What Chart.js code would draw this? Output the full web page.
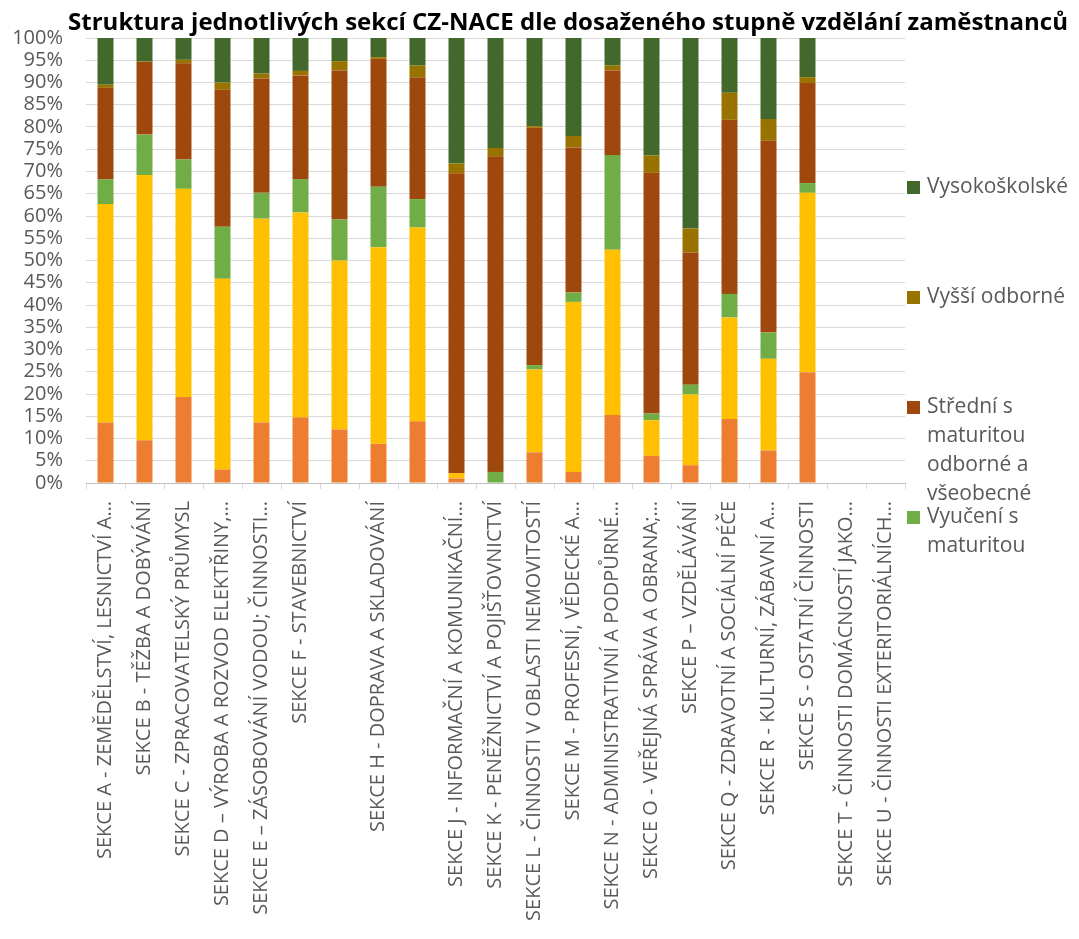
<!DOCTYPE html>
<html>
<head>
  <meta charset="utf-8">
  <title>Struktura sekcí CZ-NACE</title>
  <script src="https://cdn.jsdelivr.net/npm/chart.js"></script>
  <style>
    body { margin: 0; background: #fff; }
  </style>
</head>
<body>
  <canvas id="nace-chart" width="1079" height="939"></canvas>
  <script>
    const chartTitle = 'Struktura jednotlivých sekcí CZ-NACE dle dosaženého stupně vzdělání zaměstnanců';

    const sections = [
      'SEKCE A - ZEMĚDĚLSTVÍ, LESNICTVÍ A…',
      'SEKCE B - TĚŽBA A DOBÝVÁNÍ',
      'SEKCE C - ZPRACOVATELSKÝ PRŮMYSL',
      'SEKCE D – VÝROBA A ROZVOD ELEKTŘINY,…',
      'SEKCE E – ZÁSOBOVÁNÍ VODOU; ČINNOSTI…',
      'SEKCE F - STAVEBNICTVÍ',
      '',
      'SEKCE H - DOPRAVA A SKLADOVÁNÍ',
      '',
      'SEKCE J - INFORMAČNÍ A KOMUNIKAČNÍ…',
      'SEKCE K - PENĚŽNICTVÍ A POJIŠŤOVNICTVÍ',
      'SEKCE L - ČINNOSTI V OBLASTI NEMOVITOSTÍ',
      'SEKCE M - PROFESNÍ, VĚDECKÉ A…',
      'SEKCE N - ADMINISTRATIVNÍ A PODPŮRNÉ…',
      'SEKCE O - VEŘEJNÁ SPRÁVA A OBRANA;…',
      'SEKCE P – VZDĚLÁVÁNÍ',
      'SEKCE Q - ZDRAVOTNÍ A SOCIÁLNÍ PÉČE',
      'SEKCE R - KULTURNÍ, ZÁBAVNÍ A…',
      'SEKCE S - OSTATNÍ ČINNOSTI',
      'SEKCE T - ČINNOSTI DOMÁCNOSTÍ JAKO…',
      'SEKCE U - ČINNOSTI EXTERITORIÁLNÍCH…'
    ];

    // shares in % (bottom to top of each bar)
    const zakladni      = [13.6, 9.6, 19.3, 3.0, 13.6, 14.8, 12.0, 8.8, 13.9, 1.0, 0, 6.9, 2.5, 15.3, 6.1, 4.0, 14.4, 7.3, 24.9, 0, 0];
    const bezMaturity   = [49.1, 59.6, 46.8, 42.9, 45.8, 46.0, 38.0, 44.2, 43.5, 1.2, 0, 18.6, 38.2, 37.1, 8.0, 15.9, 22.8, 20.6, 40.3, 0, 0];
    const vyuceniMat    = [5.5, 9.1, 6.6, 11.7, 5.8, 7.5, 9.2, 13.6, 6.4, 0, 2.5, 1.0, 2.1, 21.3, 1.5, 2.2, 5.3, 5.9, 2.2, 0, 0];
    const stredniMat    = [20.6, 16.3, 21.6, 30.8, 25.7, 23.3, 33.5, 28.7, 27.4, 67.4, 70.9, 53.3, 32.6, 19.0, 54.1, 29.7, 39.1, 43.1, 22.5, 0, 0];
    const vyssiOdborne  = [0.7, 0.1, 0.8, 1.6, 1.1, 1.0, 2.1, 0.4, 2.6, 2.2, 1.9, 0.4, 2.6, 1.1, 3.9, 5.4, 6.1, 4.9, 1.3, 0, 0];
    const vysokoskolske = [10.5, 5.3, 4.9, 10.0, 8.0, 7.4, 5.2, 4.3, 6.2, 28.2, 24.7, 19.8, 22.0, 6.2, 26.4, 42.8, 12.3, 18.2, 8.8, 0, 0];

    const yTicks = [0, 5, 10, 15, 20, 25, 30, 35, 40, 45, 50, 55, 60, 65, 70, 75, 80, 85, 90, 95, 100];

    const grey = '#595959';
    const font = '"Open Sans", "DejaVu Sans", sans-serif';

    function makeSet(label, data, color) {
      return { label: label, data: data, backgroundColor: color, borderWidth: 0,
               barPercentage: 0.82, categoryPercentage: 0.5 };
    }

    const datasets = [
      makeSet('Základní a bez vzdělání', zakladni, '#ED7D31'),
      makeSet('Střední bez maturity', bezMaturity, '#FFC000'),
      makeSet('Vyučení s maturitou', vyuceniMat, '#70AD47'),
      makeSet('Střední s maturitou odborné a všeobecné', stredniMat, '#9E480E'),
      makeSet('Vyšší odborné', vyssiOdborne, '#997300'),
      makeSet('Vysokoškolské', vysokoskolske, '#43682B')
    ];

    function wrapText(ctx, text, maxWidth) {
      const words = text.split(' ');
      const lines = [];
      let line = '';
      words.forEach(w => {
        const test = line ? line + ' ' + w : w;
        if (line && ctx.measureText(test).width > maxWidth) {
          lines.push(line);
          line = w;
        } else {
          line = test;
        }
      });
      if (line) lines.push(line);
      return lines;
    }

    // title drawn by hand: narrow bold face imitated by squeezing Open Sans
    const titlePlugin = {
      id: 'bigTitle',
      afterDraw(chart) {
        const ctx = chart.ctx;
        ctx.save();
        ctx.font = 'bold 24px "Open Sans", sans-serif';
        const w = ctx.measureText(chartTitle).width;
        const sx = Math.min(1, 1012 / w);
        ctx.fillStyle = '#000';
        ctx.textAlign = 'center';
        ctx.textBaseline = 'alphabetic';
        ctx.translate(568, 30);
        ctx.scale(sx, 1);
        ctx.fillText(chartTitle, 0, 0);
        ctx.restore();
      }
    };

    // legend on the right, cut off at the bottom like in the source
    const sideLegend = {
      id: 'sideLegend',
      afterDraw(chart) {
        const ctx = chart.ctx;
        const x = chart.chartArea.right + 2;
        const limit = 560;
        ctx.save();
        ctx.font = '21px ' + font;
        ctx.textBaseline = 'middle';
        let y = 187;
        chart.data.datasets.slice().reverse().forEach(ds => {
          if (y > limit) return;
          ctx.fillStyle = ds.backgroundColor;
          ctx.fillRect(x, y - 6, 13, 13);
          ctx.fillStyle = grey;
          wrapText(ctx, ds.label, 150).forEach((ln, i) => {
            if (y + i * 29 < limit) ctx.fillText(ln, x + 20, y + i * 29);
          });
          y += 110;
        });
        ctx.restore();
      }
    };

    const ctx = document.getElementById('nace-chart').getContext('2d');
    const naceChart = new Chart(ctx, {
      type: 'bar',
      data: { labels: sections, datasets: datasets },
      options: {
        responsive: false,
        animation: false,
        layout: { padding: { top: 38, right: 174, bottom: 0, left: 0 } },
        plugins: {
          legend: { display: false },
          tooltip: { enabled: false }
        },
        scales: {
          x: {
            stacked: true,
            grid: { drawOnChartArea: false, drawTicks: true, tickLength: 6, color: '#d9d9d9', offset: true },
            border: { color: '#bfbfbf' },
            afterFit: scale => { scale.height = 456; },
            ticks: {
              autoSkip: false, minRotation: 90, maxRotation: 90, padding: 12,
              color: grey, font: { family: font, size: 20 }
            }
          },
          y: {
            stacked: true,
            min: 0,
            max: 100,
            afterFit: scale => { scale.width = 86; },
            afterBuildTicks: scale => { scale.ticks = yTicks.map(v => ({ value: v })); },
            grid: { drawTicks: false, color: '#d9d9d9' },
            border: { display: false },
            ticks: {
              autoSkip: false,
              padding: 23, color: grey, font: { family: font, size: 20 },
              callback: v => v + '%'
            }
          }
        }
      },
      plugins: [titlePlugin, sideLegend]
    });
  </script>
</body>
</html>
